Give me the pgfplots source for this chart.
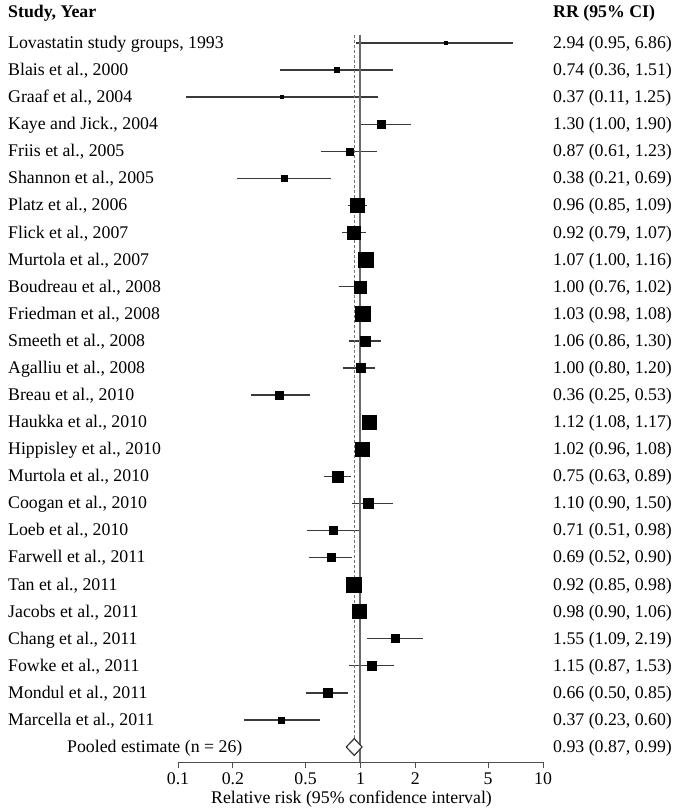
\documentclass[border=0pt]{standalone}
\usepackage{pgfplots}
\usepackage{pgfplotstable}
\pgfplotsset{compat=1.18}
\usepackage{fontspec}
\setmainfont{Liberation Serif}
\definecolor{cil}{HTML}{3A3A3A}
\definecolor{vl}{HTML}{6A6A6A}
\pgfplotstableread{
y rr lo hi ms
26 2.94 0.95 6.86 1.5
25 0.74 0.36 1.51 2.5
24 0.37 0.11 1.25 1.5
23 1.30 1.00 1.90 4
22 0.87 0.61 1.23 3.5
21 0.38 0.21 0.69 3
20 0.96 0.85 1.09 7
19 0.92 0.79 1.07 6.5
18 1.07 1.00 1.16 7.5
17 1.00 0.76 1.02 6
16 1.03 0.98 1.08 7.5
15 1.06 0.86 1.30 5
14 1.00 0.80 1.20 4.5
13 0.36 0.25 0.53 4
12 1.12 1.08 1.17 7
11 1.02 0.96 1.08 7
10 0.75 0.63 0.89 5.5
9 1.10 0.90 1.50 5
8 0.71 0.51 0.98 4
7 0.69 0.52 0.90 4
6 0.92 0.85 0.98 7.5
5 0.98 0.90 1.06 7
4 1.55 1.09 2.19 4
3 1.15 0.87 1.53 4.5
2 0.66 0.50 0.85 4.5
1 0.37 0.23 0.60 3
}\studies
\newcommand{\fs}{\fontsize{17.8}{20}\selectfont}
\begin{document}
\begin{tikzpicture}
\path[use as bounding box] (-178pt,-49pt) rectangle (498pt,762pt);
\begin{axis}[
  at={(0pt,0pt)}, anchor=south west,
  scale only axis, width=365pt, height=762pt,
  xmode=log, log basis x=10,
  xmin=0.1, xmax=10, ymin=-0.554, ymax=27.59,
  axis x line*=bottom, axis y line=none,
  axis line style={draw=black!70, line width=0.9pt},
  xtick={0.1,0.2,0.5,1,2,5,10},
  xticklabels={0.1,0.2,0.5,1,2,5,10},
  minor xtick={}, 
  tick align=outside, major tick length=6pt,
  tick style={draw=black!70, line width=0.9pt},
  xticklabel style={font=\fs, yshift=-1pt},
  xlabel={Relative risk (95\% confidence interval)},
  xlabel style={font=\fs, xshift=-9pt, yshift=1pt},
  clip=false,
  unbounded coords=jump,
]
% confidence intervals
\addplot[cil, line width=1.4pt] coordinates {
(0.95,26) (6.86,26) (nan,nan)
(0.36,25) (1.51,25) (nan,nan)
(0.11,24) (1.25,24) (nan,nan)
(1.00,23) (1.90,23) (nan,nan)
(0.61,22) (1.23,22) (nan,nan)
(0.21,21) (0.69,21) (nan,nan)
(0.85,20) (1.09,20) (nan,nan)
(0.79,19) (1.07,19) (nan,nan)
(1.00,18) (1.16,18) (nan,nan)
(0.76,17) (1.02,17) (nan,nan)
(0.98,16) (1.08,16) (nan,nan)
(0.86,15) (1.30,15) (nan,nan)
(0.80,14) (1.20,14) (nan,nan)
(0.25,13) (0.53,13) (nan,nan)
(1.08,12) (1.17,12) (nan,nan)
(0.96,11) (1.08,11) (nan,nan)
(0.63,10) (0.89,10) (nan,nan)
(0.90,9) (1.50,9) (nan,nan)
(0.51,8) (0.98,8) (nan,nan)
(0.52,7) (0.90,7) (nan,nan)
(0.85,6) (0.98,6) (nan,nan)
(0.90,5) (1.06,5) (nan,nan)
(1.09,4) (2.19,4) (nan,nan)
(0.87,3) (1.53,3) (nan,nan)
(0.50,2) (0.85,2) (nan,nan)
(0.23,1) (0.60,1)
};
% reference lines
\addplot[vl, line width=2pt] coordinates {(1,-0.554) (1,26.3)};
\addplot[black!55, line width=0.8pt, dash pattern=on 3pt off 2pt] coordinates {(0.93,0.35) (0.93,26.3)};
% point estimates
\addplot[scatter, only marks, mark=square*, draw=black, fill=black,
  scatter/use mapped color={draw=black, fill=black},
  visualization depends on={\thisrow{ms} \as \msz},
  scatter/@pre marker code/.append style={/tikz/mark size=\msz pt}]
  table[x=rr, y=y] {\studies};
% pooled diamond
\addplot[black!80, fill=white, line width=1.2pt] coordinates {(0.835,0) (0.925,0.31) (1.02,0) (0.925,-0.31) (0.835,0)};
% headers
\node[anchor=base west, inner sep=0pt, font=\fs\bfseries] at (axis cs:0.1,27.14) [xshift=-170pt, yshift=-5.5pt] {Study, Year};
\node[anchor=base west, inner sep=0pt, font=\fs\bfseries] at (axis cs:10,27.14) [xshift=10pt, yshift=-5.5pt] {RR (95\% CI)};
% left labels
\begin{scope}[every node/.style={anchor=base west, inner sep=0pt, font=\fs, xshift=-170pt, yshift=-5.5pt}]
\node at (axis cs:0.1,26) {Lovastatin study groups, 1993};
\node at (axis cs:0.1,25) {Blais et al., 2000};
\node at (axis cs:0.1,24) {Graaf et al., 2004};
\node at (axis cs:0.1,23) {Kaye and Jick., 2004};
\node at (axis cs:0.1,22) {Friis et al., 2005};
\node at (axis cs:0.1,21) {Shannon et al., 2005};
\node at (axis cs:0.1,20) {Platz et al., 2006};
\node at (axis cs:0.1,19) {Flick et al., 2007};
\node at (axis cs:0.1,18) {Murtola et al., 2007};
\node at (axis cs:0.1,17) {Boudreau et al., 2008};
\node at (axis cs:0.1,16) {Friedman et al., 2008};
\node at (axis cs:0.1,15) {Smeeth et al., 2008};
\node at (axis cs:0.1,14) {Agalliu et al., 2008};
\node at (axis cs:0.1,13) {Breau et al., 2010};
\node at (axis cs:0.1,12) {Haukka et al., 2010};
\node at (axis cs:0.1,11) {Hippisley et al., 2010};
\node at (axis cs:0.1,10) {Murtola et al., 2010};
\node at (axis cs:0.1,9) {Coogan et al., 2010};
\node at (axis cs:0.1,8) {Loeb et al., 2010};
\node at (axis cs:0.1,7) {Farwell et al., 2011};
\node at (axis cs:0.1,6) {Tan et al., 2011};
\node at (axis cs:0.1,5) {Jacobs et al., 2011};
\node at (axis cs:0.1,4) {Chang et al., 2011};
\node at (axis cs:0.1,3) {Fowke et al., 2011};
\node at (axis cs:0.1,2) {Mondul et al., 2011};
\node at (axis cs:0.1,1) {Marcella et al., 2011};
\node[xshift=59pt] at (axis cs:0.1,0) {Pooled estimate (n = 26)};
\end{scope}
% right labels
\begin{scope}[every node/.style={anchor=base west, inner sep=0pt, font=\fs, xshift=10pt, yshift=-5.5pt}]
\node at (axis cs:10,26) {2.94 (0.95, 6.86)};
\node at (axis cs:10,25) {0.74 (0.36, 1.51)};
\node at (axis cs:10,24) {0.37 (0.11, 1.25)};
\node at (axis cs:10,23) {1.30 (1.00, 1.90)};
\node at (axis cs:10,22) {0.87 (0.61, 1.23)};
\node at (axis cs:10,21) {0.38 (0.21, 0.69)};
\node at (axis cs:10,20) {0.96 (0.85, 1.09)};
\node at (axis cs:10,19) {0.92 (0.79, 1.07)};
\node at (axis cs:10,18) {1.07 (1.00, 1.16)};
\node at (axis cs:10,17) {1.00 (0.76, 1.02)};
\node at (axis cs:10,16) {1.03 (0.98, 1.08)};
\node at (axis cs:10,15) {1.06 (0.86, 1.30)};
\node at (axis cs:10,14) {1.00 (0.80, 1.20)};
\node at (axis cs:10,13) {0.36 (0.25, 0.53)};
\node at (axis cs:10,12) {1.12 (1.08, 1.17)};
\node at (axis cs:10,11) {1.02 (0.96, 1.08)};
\node at (axis cs:10,10) {0.75 (0.63, 0.89)};
\node at (axis cs:10,9) {1.10 (0.90, 1.50)};
\node at (axis cs:10,8) {0.71 (0.51, 0.98)};
\node at (axis cs:10,7) {0.69 (0.52, 0.90)};
\node at (axis cs:10,6) {0.92 (0.85, 0.98)};
\node at (axis cs:10,5) {0.98 (0.90, 1.06)};
\node at (axis cs:10,4) {1.55 (1.09, 2.19)};
\node at (axis cs:10,3) {1.15 (0.87, 1.53)};
\node at (axis cs:10,2) {0.66 (0.50, 0.85)};
\node at (axis cs:10,1) {0.37 (0.23, 0.60)};
\node at (axis cs:10,0) {0.93 (0.87, 0.99)};
\end{scope}
\end{axis}
\end{tikzpicture}
\end{document}
